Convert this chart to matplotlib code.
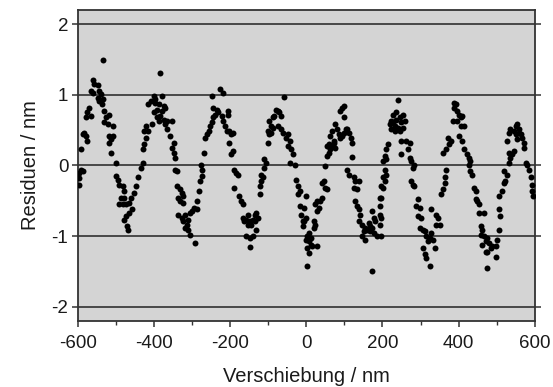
import numpy as np
from matplotlib import pyplot as plt

# residuals, one block per period (nm, nm)
x_a = [-598, -596, -596, -592, -588, -592, -583, -588, -579, -575, -570, -575, -579, -566,
       -566, -561, -561, -557, -548, -544, -548, -540, -544, -535, -537, -533, -531, -526,
       -531, -522, -518, -509, -518, -509, -513, -518, -513, -500, -500, -496, -491, -483,
       -478, -487, -478, -491, -483, -474, -465, -474, -478, -465, -457, -470, -468, -461,
       -452, -448, -443, -435, -430, -430, -426, -421, -426, -417, -421, -417, -408]
y_a = [-0.27, -0.18, -0.10, -0.06, -0.08, 0.23, 0.46, 0.44, 0.42, 0.34, 0.82, 0.75, 0.68, 0.70,
       1.05, 1.21, 1.02, 1.15, 1.14, 1.05, 0.96, 1.01, 0.91, 0.94, 0.87, 1.49, 0.77, 0.68,
       0.61, 0.58, 0.72, 0.56, 0.42, 0.42, 0.37, 0.32, 0.18, 0.04, -0.15, -0.20, -0.27, -0.29,
       -0.36, -0.46, -0.46, -0.55, -0.55, -0.54, -0.53, -0.72, -0.77, -0.67, -0.62, -0.86, -0.91, -0.46,
       -0.39, -0.29, -0.17, -0.03, 0.04, 0.23, 0.30, 0.39, 0.49, 0.49, 0.56, 0.87, 0.91]

x_b = [-384, -401, -397, -380, -397, -388, -375, -393, -380, -371, -384, -393, -375, -366,
       -388, -371, -401, -406, -353, -366, -358, -349, -353, -349, -345, -345, -340, -340,
       -331, -336, -327, -323, -331, -323, -336, -327, -318, -310, -305, -301, -296, -288,
       -323, -314, -318, -310, -305, -292, -288, -283, -279, -275, -275, -276, -270, -266,
       -261, -257, -253, -248, -244, -240, -235, -244, -248, -226, -218, -231, -222, -218,
       -213, -209]
y_b = [1.31, 0.98, 0.94, 0.98, 0.89, 0.87, 0.84, 0.79, 0.77, 0.82, 0.70, 0.68, 0.65, 0.63,
       0.63, 0.58, 0.75, 0.58, 0.63, 0.51, 0.42, 0.32, 0.25, 0.18, 0.11, -0.06, -0.08, -0.29,
       -0.34, -0.46, -0.39, -0.43, -0.51, -0.53, -0.70, -0.74, -0.70, -0.77, -0.67, -0.65, -0.60, -0.62,
       -0.79, -0.84, -0.88, -0.91, -0.98, -1.10, -0.51, -0.36, -0.22, -0.15, -0.06, 0.01, 0.18, 0.39,
       0.44, 0.49, 0.56, 0.61, 0.68, 0.72, 0.79, 0.82, 0.98, 1.08, 1.03, 0.75, 0.70, 0.63,
       0.56, 0.49]

x_c = [-206, -206, -202, -198, -193, -202, -193, -198, -189, -184, -180, -189, -176, -171,
       -167, -167, -158, -154, -149, -145, -141, -136, -132, -128, -136, -154, -163, -158,
       -149, -141, -149, -132, -123, -123, -119, -114, -119, -110, -106, -110, -101, -97,
       -93, -101, -88, -93, -97, -88, -84, -79, -75, -71, -66, -59, -75, -66,
       -62, -53, -49, -44, -49, -40, -36, -44, -31, -27, -22, -18, -22, -18,
       -14, -9, -9, -5]
y_c = [0.77, 0.72, 0.49, 0.44, 0.46, 0.32, 0.20, 0.16, -0.06, -0.10, -0.13, -0.32, -0.43, -0.51,
       -0.55, -0.74, -0.77, -0.70, -0.79, -0.84, -0.77, -0.70, -0.67, -0.74, -0.79, -0.84, -0.79, -1.00,
       -1.03, -1.00, -1.16, -0.91, -0.41, -0.29, -0.22, -0.17, -0.13, -0.03, 0.04, 0.09, 0.32, 0.44,
       0.46, 0.49, 0.53, 0.56, 0.63, 0.68, 0.70, 0.79, 0.77, 0.75, 0.70, 0.97, 0.56, 0.51,
       0.46, 0.39, 0.44, 0.35, 0.27, 0.23, 0.16, 0.04, 0.01, -0.20, -0.29, -0.36, -0.41, -0.58,
       -0.70, -0.79, -0.86, -0.79]

x_d = [2, -2, -7, -2, 6, 2, 11, -2, 6, 11, 2, 6, 15, 28,
       19, 24, 19, 28, 33, 24, 37, 41, 28, 41, 46, 50, 54, 50,
       54, 59, 63, 54, 59, 68, 72, 76, 63, 68, 72, 76, 81, 85,
       89, 94, 98, 103, 89, 94, 98, 98, 107, 111, 116, 120, 120, 107,
       111, 124, 129, 138, 124, 133, 129, 133, 138, 142, 138, 146, 155, 164,
       168, 173, 177, 181, 151, 159, 168, 177, 186, 146, 155, 173, 173, 194,
       194, 194]
y_d = [-1.43, -0.43, -0.60, -0.74, -0.96, -1.00, -1.03, -1.05, -1.07, -1.12, -1.17, -1.24, -1.14, -1.14,
       -0.88, -0.84, -0.79, -0.65, -0.60, -0.55, -0.51, -0.46, -0.51, -0.25, -0.22, -0.32, -0.34, -0.01,
       0.13, 0.18, 0.23, 0.27, 0.30, 0.27, 0.32, 0.25, 0.42, 0.49, 0.35, 0.58, 0.51, 0.44,
       0.39, 0.42, 0.46, 0.51, 0.77, 0.82, 0.84, 0.68, 0.51, 0.46, 0.39, 0.32, 0.12, -0.06,
       -0.13, -0.17, -0.22, -0.22, -0.32, -0.34, -0.51, -0.58, -0.62, -0.70, -0.79, -0.84, -0.88, -0.81,
       -0.86, -0.65, -0.74, -0.79, -0.93, -0.91, -0.93, -0.96, -1.00, -1.00, -1.05, -0.88, -1.50, -0.70,
       -0.58, -0.46]

x_e = [197, 193, 197, 197, 201, 206, 210, 201, 206, 197, 210, 201, 206, 210,
       214, 219, 223, 228, 232, 236, 241, 245, 223, 232, 228, 236, 245, 249,
       254, 241, 254, 258, 249, 249, 263, 271, 267, 271, 276, 284, 280, 276,
       280, 284, 293, 289, 298, 293, 302, 298, 306, 311, 315, 324, 328, 319,
       333, 306, 311, 315, 324, 337, 328, 341, 346, 350, 341, 354, 359, 363,
       363, 368, 359, 368, 376, 381, 372, 385, 389, 389]
y_e = [-1.00, -0.84, -0.74, -0.46, -0.32, -0.22, -0.13, -0.17, -0.06, -0.29, 0.09, 0.06, 0.13, 0.23,
       0.30, 0.58, 0.63, 0.61, 0.56, 0.65, 0.53, 0.49, 0.51, 0.49, 0.72, 0.75, 0.68, 0.61,
       0.53, 0.92, 0.72, 0.63, 0.35, 0.16, 0.35, 0.32, 0.23, 0.11, 0.06, 0.01, -0.03, -0.22,
       -0.27, -0.29, -0.48, -0.58, -0.60, -0.72, -0.74, -0.88, -0.91, -0.93, -1.00, -1.03, -0.96, -1.07,
       -1.05, -1.17, -1.26, -1.31, -1.43, -1.17, -0.62, -0.70, -0.74, -0.84, -0.84, -0.41, -0.34, -0.25,
       -0.17, -0.06, 0.18, 0.23, 0.30, 0.35, 0.39, 0.63, 0.82, 0.89]

x_f = [392, 396, 401, 405, 410, 396, 405, 414, 401, 410, 414, 423, 427, 431,
       427, 431, 436, 440, 445, 449, 445, 453, 453, 466, 458, 462, 458, 466,
       471, 475, 462, 480, 488, 484, 471, 475, 497, 501, 506, 475, 497, 506,
       510, 506, 515, 519, 523, 528, 519, 532, 536, 541, 545, 532, 528, 532,
       536, 545, 550, 554, 558, 563, 567, 571, 571, 550, 554, 558, 576, 580,
       585, 589, 593, 593, 595]
y_f = [0.87, 0.77, 0.72, 0.68, 0.70, 0.63, 0.56, 0.56, 0.42, 0.35, 0.23, 0.16, 0.11, 0.06,
       0.01, -0.08, -0.13, -0.32, -0.36, -0.51, -0.48, -0.55, -0.67, -0.67, -0.86, -0.91, -0.98, -1.00,
       -1.07, -1.03, -1.12, -1.10, -1.14, -1.17, -1.22, -1.22, -1.14, -1.05, -0.91, -1.45, -1.29, -0.62,
       -0.72, -0.43, -0.36, -0.25, -0.22, -0.13, -0.08, 0.04, 0.11, 0.16, 0.20, 0.18, 0.35, 0.46,
       0.51, 0.49, 0.56, 0.58, 0.51, 0.44, 0.39, 0.32, 0.25, 0.44, 0.37, 0.46, 0.04, 0.01,
       -0.06, -0.17, -0.27, -0.36, -0.43]

shift_nm = np.array(x_a + x_b + x_c + x_d + x_e + x_f)
resid_nm = np.array(y_a + y_b + y_c + y_d + y_e + y_f)

x_ticks = [-600, -400, -200, 0, 200, 400, 600]
y_ticks = [-2, -1, 0, 1, 2]

# %%
plt.rcParams['font.family'] = ['Liberation Sans', 'DejaVu Sans']

fig = plt.figure(figsize=(5.53, 3.87), dpi=100)
ax = fig.add_axes([0.141, 0.171, 0.826, 0.803])
ax.set_facecolor('#d4d4d4')

for yy in y_ticks:
    ax.axhline(yy, color='#222222', lw=1.1, zorder=1)

ax.plot(shift_nm, resid_nm, 'o', color='black', ms=4.3, mew=0, zorder=3)

ax.set_xlim(-600, 600)
ax.set_ylim(-2.2, 2.2)
ax.set_xticks(x_ticks)
ax.set_xticks([-500, -300, -100, 100, 300, 500], minor=True)
ax.set_yticks(y_ticks)
ax.set_xticklabels([str(v) for v in x_ticks])
ax.set_yticklabels([str(v) for v in y_ticks])

for s in ax.spines.values():
    s.set_color('#333333')
    s.set_linewidth(1.3)

ax.tick_params(axis='both', which='major', direction='out', length=4, width=1.1,
               color='#333333', labelsize=13.5, labelcolor='#1a1a1a')
ax.tick_params(axis='x', which='minor', direction='out', length=3, width=1.0, color='#333333')
ax.tick_params(axis='y', right=True, pad=3)
ax.tick_params(axis='x', pad=6)

ax.set_xlabel('Verschiebung / nm', fontsize=14.5, labelpad=11, color='#1a1a1a')
ax.set_ylabel('Residuen / nm', fontsize=14.5, labelpad=8, color='#1a1a1a')

plt.savefig('out.png', dpi=100)
